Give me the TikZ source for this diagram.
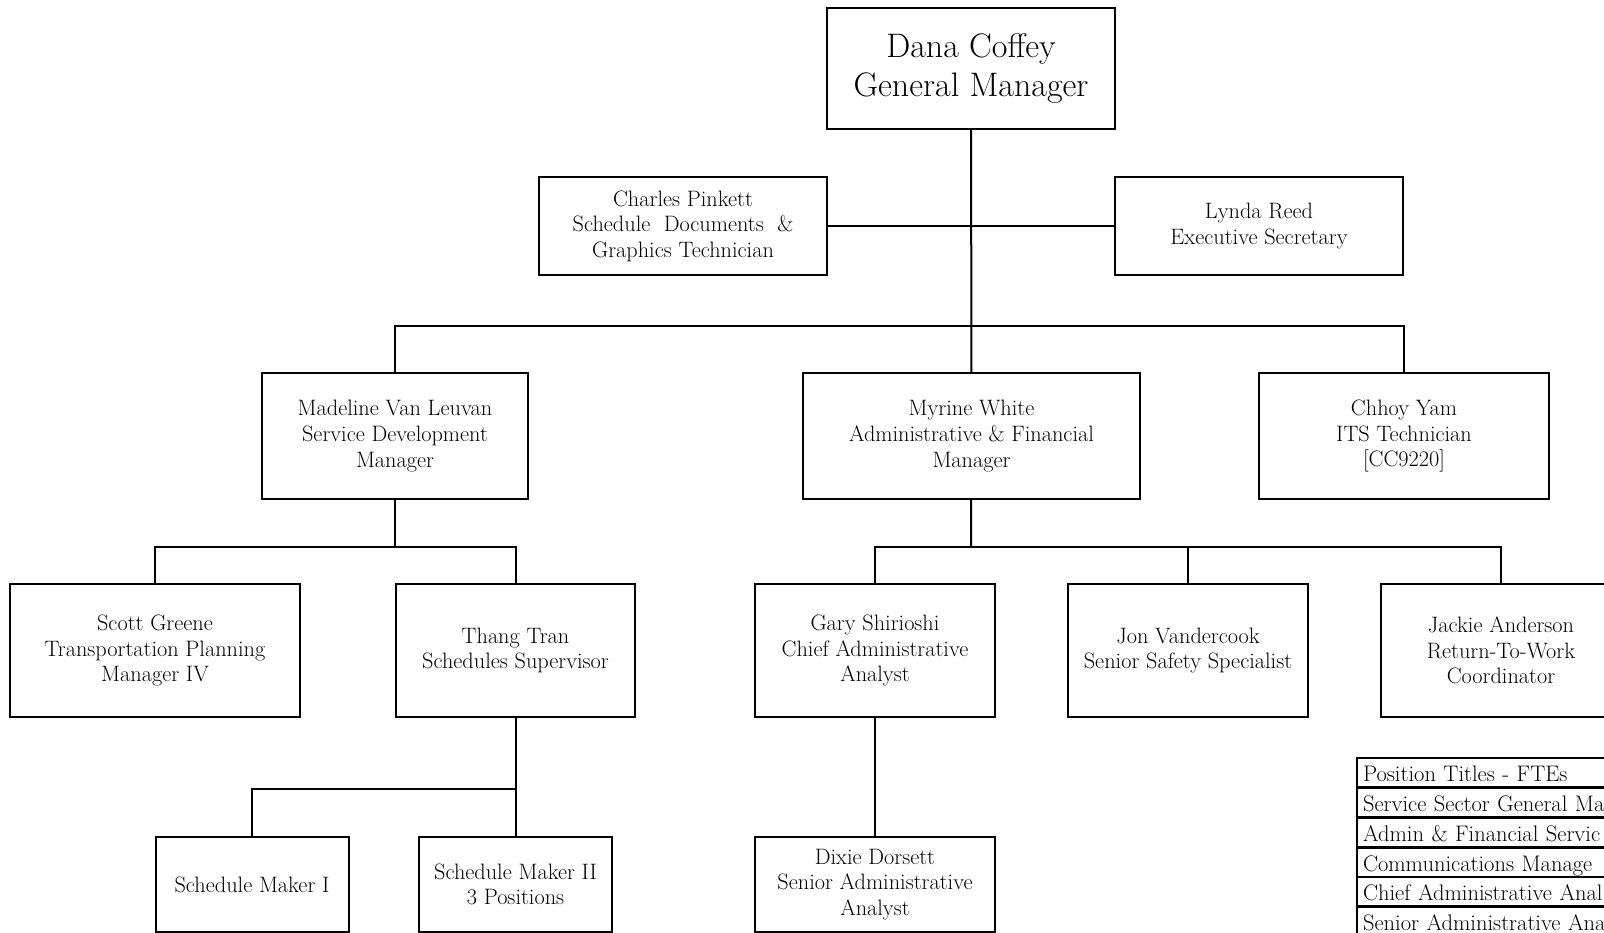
\documentclass[tikz,border=0pt]{standalone}
\tikzset{
  post/.style={draw,line width=2pt,align=center,inner sep=0pt,
    font=\fontsize{22.3}{25.6}\selectfont},
  link/.style={line width=2pt},
  fterow/.style={draw,line width=2.6pt,anchor=north west,align=left,
    text width=380pt,inner xsep=6pt,inner ysep=0pt,outer sep=0pt,
    minimum height=29.75pt,text height=20pt,text depth=2pt,
    font=\fontsize{22.5}{25}\selectfont}
}
\begin{document}
\begin{tikzpicture}[x=1pt,y=-1pt]
\useasboundingbox (0,0) rectangle (1604,932);
\clip (0,0) rectangle (1604,932);
\coordinate (busA) at (971,326);
\coordinate (busB) at (395,547);
\coordinate (busC) at (971,547);
\coordinate (busD) at (515.5,789);
\node[post,minimum width=288.5pt,minimum height=121pt,
  font=\fontsize{34}{39}\selectfont] (dana) at (971,68.5) {Dana Coffey\\General Manager};
\node[post,minimum width=288pt,minimum height=98pt] (charles) at (683,226)
  {Charles Pinkett\\Schedule~ Documents~ \&\\Graphics Technician};
\node[post,minimum width=288pt,minimum height=98pt] (lynda) at (1259,226)
  {Lynda Reed\\Executive Secretary};
\node[post,minimum width=266pt,minimum height=126pt] (madeline) at (395,436)
  {Madeline Van Leuvan\\Service Development\\Manager};
\node[post,minimum width=337pt,minimum height=126pt] (myrine) at (971.5,436)
  {Myrine White\\Administrative \& Financial\\Manager};
\node[post,minimum width=290pt,minimum height=126pt] (chhoy) at (1404,436)
  {Chhoy Yam\\ITS Technician\\{[}CC9220{]}};
\node[post,minimum width=290pt,minimum height=133pt] (scott) at (155,650.5)
  {Scott Greene\\Transportation Planning\\Manager IV};
\node[post,minimum width=239pt,minimum height=133pt] (thang) at (515.5,650.5)
  {Thang Tran\\Schedules Supervisor};
\node[post,minimum width=240pt,minimum height=133pt] (gary) at (875,650.5)
  {Gary Shirioshi\\Chief Administrative\\Analyst};
\node[post,minimum width=240pt,minimum height=133pt] (jon) at (1188,650.5)
  {Jon Vandercook\\Senior Safety Specialist};
\node[post,minimum width=241pt,minimum height=133pt] (jackie) at (1501,650.5)
  {Jackie Anderson\\Return-To-Work\\Coordinator};
\node[post,minimum width=193pt,minimum height=95pt] (smone) at (252,884.5)
  {Schedule Maker I};
\node[post,minimum width=193pt,minimum height=95pt] (smtwo) at (515.5,884.5)
  {Schedule Maker II\\3 Positions};
\node[post,minimum width=240pt,minimum height=95pt] (dixie) at (875,884.5)
  {Dixie Dorsett\\Senior Administrative\\Analyst};
\draw[link] (dana) -- (myrine);
\draw[link] (charles) -- (lynda);
\draw[link] (madeline.north) |- (busA) -| (chhoy.north);
\draw[link] (madeline) -- (busB);
\draw[link] (scott.north) |- (busB) -| (thang.north);
\draw[link] (myrine) -- (busC);
\draw[link] (gary.north) |- (busC) -| (jackie.north);
\draw[link] (jon.north) -- (jon.north |- busC);
\draw[link] (thang) -- (smtwo);
\draw[link] (smone.north) |- (busD);
\draw[link] (gary) -- (dixie);
\node[fterow] (fte0) at (1357,758) {Position Titles - FTEs};
\node[fterow] (fte1) at (fte0.south west) {Service Sector General Ma};
\node[fterow] (fte2) at (fte1.south west) {Admin \& Financial Servic};
\node[fterow] (fte3) at (fte2.south west) {Communications Manage};
\node[fterow] (fte4) at (fte3.south west) {Chief Administrative Anal};
\node[fterow] (fte5) at (fte4.south west) {Senior Administrative Ana};
\end{tikzpicture}
\end{document}
